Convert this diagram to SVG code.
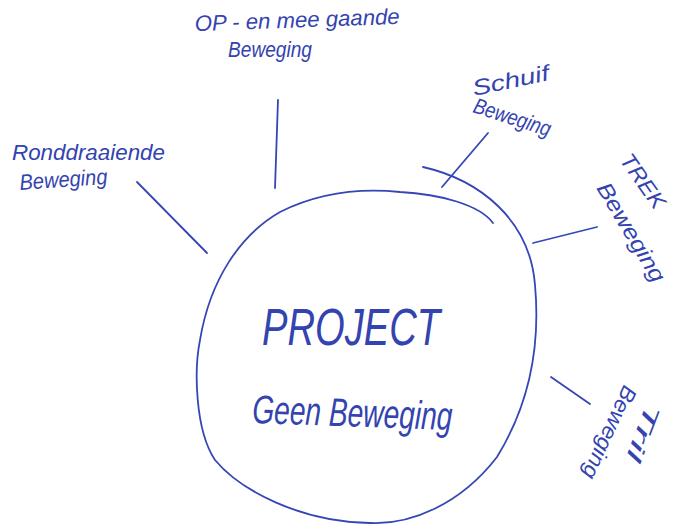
<svg xmlns="http://www.w3.org/2000/svg" width="674" height="529" viewBox="0 0 674 529">
<style>
.ink{fill:none;stroke:#3646b4;stroke-width:1.8;stroke-linecap:round;stroke-linejoin:round}
.t{font-family:"Liberation Sans",Arial,sans-serif;font-style:italic;fill:#3343b0}
.s{font-size:22px}
</style>
<rect width="674" height="529" fill="#ffffff"/>
<g id="project">
<path class="ink" d="M423 167 C480 180 530 220 535 285 C540 340 532 400 497 457 C460 505 410 525 370 523 C300 522 240 490 215 460 C195 430 194 370 200 340 C210 280 240 235 280 212 C320 192 360 188 400 192 C440 194 480 205 493 223"/>
<text class="t" x="262" y="345" font-size="52" textLength="178" lengthAdjust="spacingAndGlyphs">PROJECT</text>
<text class="t" x="252" y="423" font-size="40" textLength="200" lengthAdjust="spacingAndGlyphs" transform="rotate(2 252 423)">Geen Beweging</text>
</g>
<g id="op">
<text class="t s" x="195" y="31" textLength="205" lengthAdjust="spacingAndGlyphs" transform="rotate(-2 195 31)">OP - en mee gaande</text>
<text class="t s" x="228" y="57" textLength="84" lengthAdjust="spacingAndGlyphs">Beweging</text>
</g>
<g id="ronddraaiende">
<text class="t s" x="12" y="160" textLength="153" lengthAdjust="spacingAndGlyphs">Ronddraaiende</text>
<text class="t s" x="20" y="190" textLength="88" lengthAdjust="spacingAndGlyphs" transform="rotate(-4 20 190)">Beweging</text>
</g>
<g id="schuif">
<text class="t s" x="474" y="96" textLength="78" lengthAdjust="spacingAndGlyphs" transform="rotate(-12 474 96)">Schuif</text>
<text class="t s" x="472" y="112" textLength="80" lengthAdjust="spacingAndGlyphs" transform="rotate(18 472 112)">Beweging</text>
</g>
<g id="trek">
<text class="t s" x="619" y="160" textLength="62" lengthAdjust="spacingAndGlyphs" transform="rotate(55 619 160)">TREK</text>
<text class="t s" x="596" y="188" textLength="112" lengthAdjust="spacingAndGlyphs" transform="rotate(59 596 188)">Beweging</text>
</g>
<g id="tril">
<text class="t s" x="647" y="402" textLength="60" lengthAdjust="spacingAndGlyphs" transform="rotate(111 647 402)">Tril</text>
<text class="t s" x="624" y="384" textLength="100" lengthAdjust="spacingAndGlyphs" transform="rotate(115 624 384)">Beweging</text>
</g>
<g id="connectors">
<path class="ink" d="M137 182 L207 253"/>
<path class="ink" d="M278 100 L275 188"/>
<path class="ink" d="M488 133 L442 187"/>
<path class="ink" d="M533 243 L597 227"/>
<path class="ink" d="M551 377 L590 404"/>
</g>
</svg>
